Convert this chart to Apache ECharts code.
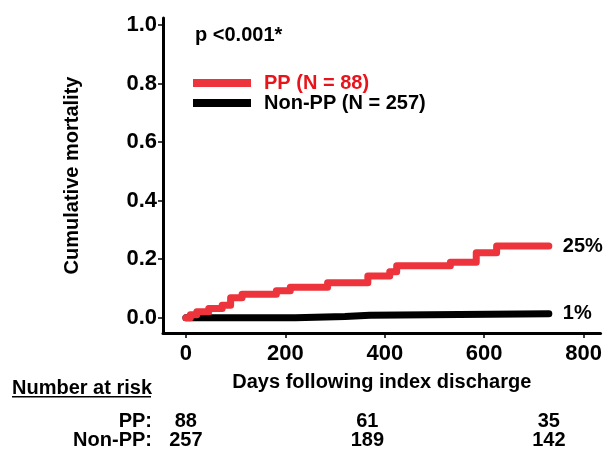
<!DOCTYPE html>
<html>
<head>
<meta charset="utf-8">
<script src="https://cdn.jsdelivr.net/npm/echarts@6/dist/echarts.min.js"></script>
<style>
  html, body { margin: 0; padding: 0; background: #fff; }
  #chart { width: 605px; height: 455px; }
</style>
</head>
<body>
<div id="chart"></div>
<script>
// Kaplan-Meier style cumulative mortality
var ppDays = [0, 9, 22, 46, 73, 90, 113, 182, 210, 285, 366, 410, 424, 532, 584, 625, 730];
var ppMort = [0, 0.01, 0.021, 0.032, 0.043, 0.068, 0.08, 0.092, 0.104, 0.12, 0.143, 0.157, 0.178, 0.19, 0.222, 0.245, 0.245];
var nonPpDays = [0, 220, 320, 370, 730];
var nonPpMort = [0, 0.004, 0.009, 0.014, 0.014];

var xTicks = [0, 200, 400, 600, 800];
var yTicks = [0, 0.2, 0.4, 0.6, 0.8, 1.0];

// number at risk table
var riskDays = [0, 365, 730];
var riskPP = [88, 61, 35];
var riskNonPP = [257, 189, 142];

var font = 'Liberation Sans, Arial, sans-serif';
var red = '#ED333B';

function pairs(xs, ys) {
    return xs.map(function (x, i) { return [x, ys[i]]; });
}

var chart = echarts.init(document.getElementById('chart'));

chart.setOption({
    animation: false,
    grid: { left: 163, right: 2, top: 18, bottom: 122 },
    legend: {
        orient: 'vertical',
        left: 193,
        top: 73,
        padding: 0,
        icon: 'rect',
        itemWidth: 58,
        itemHeight: 8,
        itemGap: 0,
        data: [
            { name: 'PP (N = 88)', textStyle: { color: '#E8141B' } },
            { name: 'Non-PP (N = 257)', textStyle: { color: '#000' } }
        ],
        textStyle: {
            fontFamily: font, fontSize: 20, fontWeight: 'bold', lineHeight: 20,
            padding: [0, 0, 0, 8]
        }
    },
    xAxis: {
        type: 'value',
        min: -46,
        max: 834,
        name: 'Days following index discharge',
        nameLocation: 'middle',
        nameGap: 39,
        nameTextStyle: { fontFamily: font, fontSize: 20, fontWeight: 'bold', color: '#000' },
        axisLine: { onZero: false, lineStyle: { color: '#000', width: 3 } },
        axisTick: { show: true, length: 5, lineStyle: { color: '#000', width: 1.5 }, customValues: xTicks },
        axisLabel: {
            customValues: xTicks,
            margin: 10,
            fontFamily: font, fontSize: 22, fontWeight: 'bold', color: '#000'
        },
        splitLine: { show: false }
    },
    yAxis: {
        type: 'value',
        min: -0.052,
        max: 1.024,
        name: 'Cumulative mortality',
        nameLocation: 'middle',
        nameGap: 81,
        nameTextStyle: { fontFamily: font, fontSize: 20, fontWeight: 'bold', color: '#000' },
        axisLine: { show: true, onZero: false, lineStyle: { color: '#000', width: 3 } },
        axisTick: { show: true, length: 5, lineStyle: { color: '#000', width: 1.5 }, customValues: yTicks },
        axisLabel: {
            customValues: yTicks,
            margin: 6,
            formatter: function (v) { return v.toFixed(1); },
            fontFamily: font, fontSize: 22, fontWeight: 'bold', color: '#000'
        },
        splitLine: { show: false }
    },
    series: [
        {
            name: 'Non-PP (N = 257)',
            type: 'line',
            step: 'end',
            showSymbol: false,
            color: '#000',
            lineStyle: { width: 7, color: '#000', cap: 'round', join: 'round' },
            endLabel: {
                show: true, distance: 14, formatter: '1%',
                fontFamily: font, fontSize: 20, fontWeight: 'bold', color: '#000'
            },
            data: pairs(nonPpDays, nonPpMort)
        },
        {
            name: 'PP (N = 88)',
            type: 'line',
            step: 'end',
            showSymbol: false,
            color: red,
            lineStyle: { width: 7, color: red, cap: 'round', join: 'round' },
            endLabel: {
                show: true, distance: 14, formatter: '25%',
                fontFamily: font, fontSize: 20, fontWeight: 'bold', color: '#000'
            },
            data: pairs(ppDays, ppMort)
        }
    ]
});

// p-value and number-at-risk table placed with the axis scale
var bold20 = { fontFamily: font, fontSize: 20, fontWeight: 'bold', fill: '#000' };
var graphics = [
    { type: 'text', left: 195, top: 25, style: Object.assign({ text: 'p <0.001*' }, bold20) },
    { type: 'text', left: 12, top: 378, style: Object.assign({ text: 'Number at risk' }, bold20) },
    { type: 'rect', shape: { x: 12, y: 396, width: 139, height: 1.5 }, style: { fill: '#000' } },
    { type: 'text', x: 152, y: 421, style: Object.assign({ text: 'PP:', align: 'right', verticalAlign: 'middle' }, bold20) },
    { type: 'text', x: 152, y: 440, style: Object.assign({ text: 'Non-PP:', align: 'right', verticalAlign: 'middle' }, bold20) }
];
riskDays.forEach(function (d, i) {
    var px = chart.convertToPixel({ xAxisIndex: 0 }, d);
    graphics.push({ type: 'text', x: px, y: 421, style: Object.assign({ text: String(riskPP[i]), align: 'center', verticalAlign: 'middle' }, bold20) });
    graphics.push({ type: 'text', x: px, y: 440, style: Object.assign({ text: String(riskNonPP[i]), align: 'center', verticalAlign: 'middle' }, bold20) });
});
chart.setOption({ graphic: graphics });
</script>
</body>
</html>
